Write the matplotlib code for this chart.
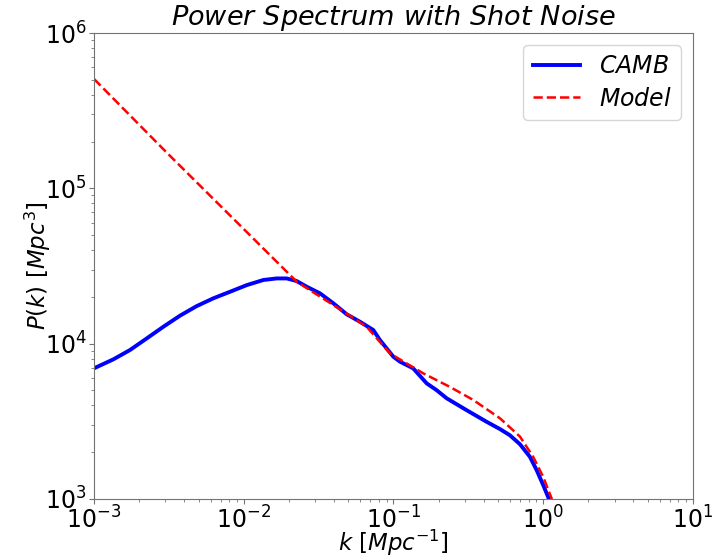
import matplotlib
matplotlib.use('Agg')
import matplotlib.pyplot as plt

# values (log-log axes)
k_camb = [0.001, 0.001346, 0.001738, 0.002249, 0.002904, 0.00375, 0.004853,
          0.006266, 0.008091, 0.01047, 0.01352, 0.0166, 0.01936, 0.02259,
          0.0263, 0.03229, 0.03963, 0.04875, 0.0597, 0.07328, 0.08128,
          0.0998, 0.1104, 0.1355, 0.1667, 0.1941, 0.2265, 0.308, 0.419,
          0.514, 0.600, 0.700, 0.815, 0.904, 1.0, 1.096, 1.175]
p_camb = [6940, 7925, 9100, 10810, 12850, 15140, 17460,
          19590, 21580, 23820, 25700, 26300, 26300, 25290,
          23280, 21090, 18200, 15450, 13840, 12250, 10540,
          8240, 7660, 6930, 5550, 5020, 4450, 3730, 3140,
          2820, 2570, 2250, 1870, 1535, 1230, 993, 630]

k_model = [0.001, 0.00303, 0.0227, 0.0396, 0.0662, 0.0948, 0.158, 0.238,
           0.341, 0.514, 0.700, 0.857, 1.0, 1.138, 1.20]
p_model = [505800, 171400, 24950, 17740, 12850, 8650, 6440, 5270,
           4340, 3310, 2520, 1870, 1390, 1010, 630]

fig = plt.figure(figsize=(7.18, 5.6), dpi=100)
ax = fig.add_axes([0.131, 0.109, 0.834, 0.832])

# CAMB spectrum and the model with shot noise
ax.loglog(k_camb, p_camb, color='b', lw=2.8, label='$CAMB$')
ax.loglog(k_model, p_model, color='r', lw=1.8, ls='--', label='$Model$')

ax.set_xlim(1e-3, 1e1)
ax.set_ylim(1e3, 1e6)

# grey frame like the reference
for s in ax.spines.values():
    s.set_color('0.45')
ax.tick_params(axis='both', which='both', color='0.45')
ax.tick_params(axis='both', which='major', labelsize=17, pad=2)

ax.set_title('$Power\\ Spectrum\\ with\\ Shot\\ Noise$', fontsize=19.5, pad=4)
ax.set_xlabel('$k\\ [Mpc^{-1}]$', fontsize=16.5)
ax.set_ylabel('$P(k)\\ [Mpc^3]$', fontsize=16.5)
ax.xaxis.set_label_coords(0.5, -0.061)
ax.yaxis.set_label_coords(-0.068, 0.5)

ax.legend(fontsize=17, loc='upper right', labelspacing=0.35)

fig.savefig('out.png', dpi=100)
